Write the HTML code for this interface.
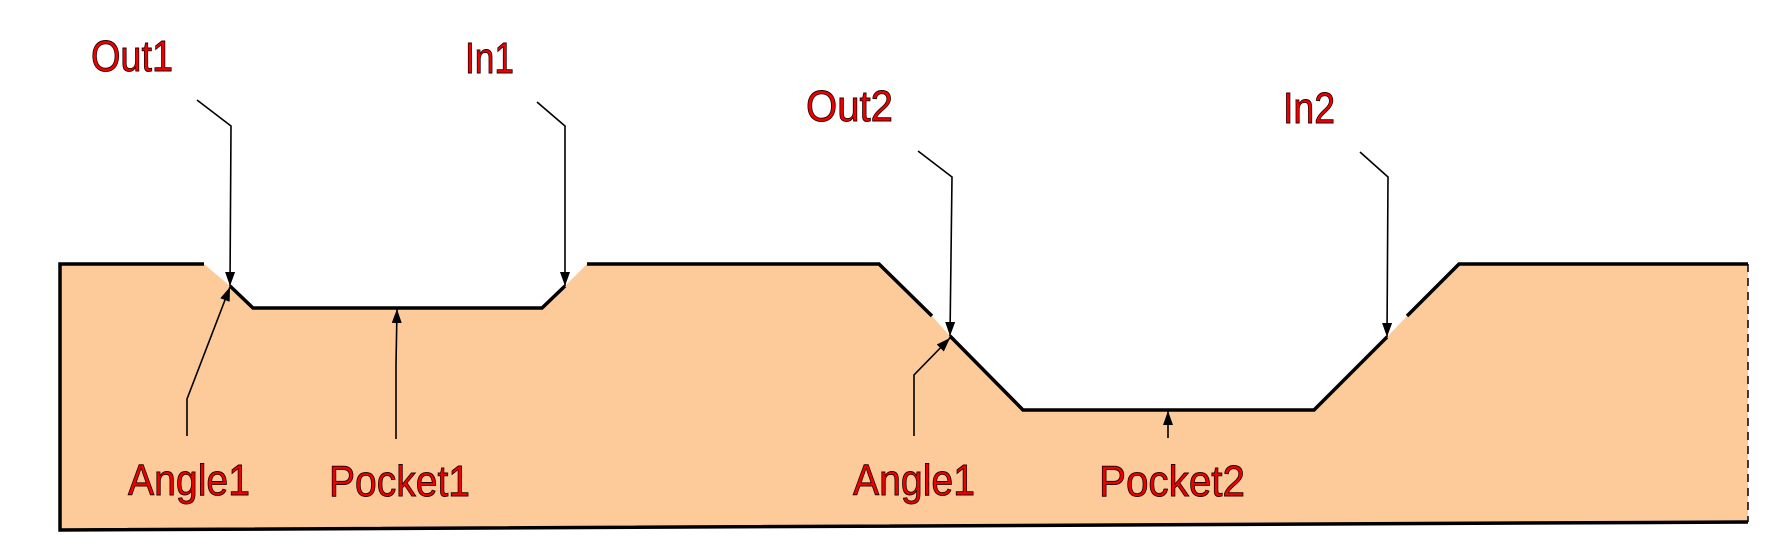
<!DOCTYPE html>
<html><head><meta charset="utf-8"><style>html,body{margin:0;padding:0;background:#fff}svg{display:block}</style></head>
<body>
<svg width="1780" height="560" viewBox="0 0 1780 560" xmlns="http://www.w3.org/2000/svg">
<defs>
<marker id="a" viewBox="0 0 14 10" refX="14" refY="5" markerWidth="14" markerHeight="10" orient="auto" markerUnits="userSpaceOnUse"><path d="M0,0 L14,5 L0,10 z" fill="#000"/></marker>
</defs>
<polygon points="60,264 204,264 230,286 253,308 542,308 565,286 587,264 879,264 930,314 950,336 1023,410 1314,410 1387,337 1409,314 1459,264 1748,264 1748,522 60,530" fill="#fdcb9a"/>
<g fill="none" stroke="#000" stroke-width="3.5" stroke-linejoin="miter">
<polyline points="204,264 60,264 60,530 1748,522"/>
<polyline points="230,286 253,308 542,308 565,286"/>
<polyline points="587,264 879,264 932,316"/>
<polyline points="950,336 1023,410 1314,410 1387,337"/>
<polyline points="1407,316 1459,264 1748,264"/>
</g>
<line x1="1748" y1="264" x2="1748" y2="522" stroke="#000" stroke-width="1.5" stroke-dasharray="8,6"/>
<g fill="none" stroke="#000" stroke-width="1.6">
<polyline points="197,100 231,126 230,286" marker-end="url(#a)"/>
<polyline points="537,102 565,126 565,286" marker-end="url(#a)"/>
<polyline points="187,436 187,399 230,287" marker-end="url(#a)"/>
<polyline points="396,439 396,365 397,309" marker-end="url(#a)"/>
<polyline points="918,151 952,177 950,336" marker-end="url(#a)"/>
<polyline points="1360,152 1388,177 1387,337" marker-end="url(#a)"/>
<polyline points="914,436 914,375 950,338" marker-end="url(#a)"/>
<polyline points="1168,438 1168,411" marker-end="url(#a)"/>
</g>
<g font-family="Liberation Sans, sans-serif" font-size="44" fill="#ee0000" stroke="#200" stroke-width="0.9">
<text x="91" y="71" textLength="82" lengthAdjust="spacingAndGlyphs">Out1</text>
<text x="465" y="73" textLength="49" lengthAdjust="spacingAndGlyphs">In1</text>
<text x="806" y="121" textLength="87" lengthAdjust="spacingAndGlyphs">Out2</text>
<text x="1283" y="123" textLength="52" lengthAdjust="spacingAndGlyphs">In2</text>
<text x="128" y="495" textLength="122" lengthAdjust="spacingAndGlyphs">Angle1</text>
<text x="329" y="496" textLength="141" lengthAdjust="spacingAndGlyphs">Pocket1</text>
<text x="853" y="495" textLength="122" lengthAdjust="spacingAndGlyphs">Angle1</text>
<text x="1099" y="496" textLength="146" lengthAdjust="spacingAndGlyphs">Pocket2</text>
</g>
</svg>
</body></html>
